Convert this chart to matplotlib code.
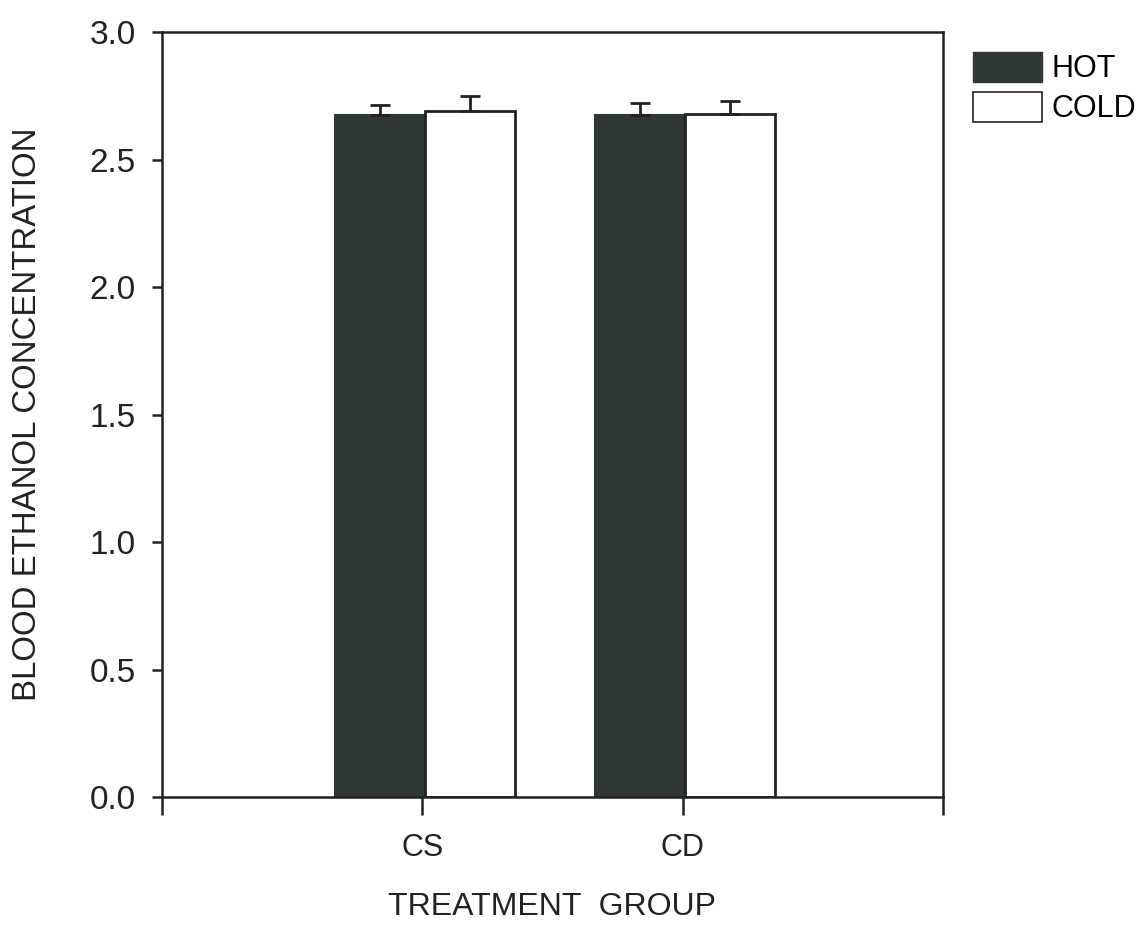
import matplotlib
matplotlib.use("Agg")
import matplotlib.pyplot as plt
import numpy as np
from matplotlib.patches import Patch

categories = ["CS", "CD"]
hot_values = [2.675, 2.675]
cold_values = [2.69, 2.68]
hot_err = [0.04, 0.045]
cold_err = [0.06, 0.05]
series_labels = ["HOT", "COLD"]
yticks = [0.0, 0.5, 1.0, 1.5, 2.0, 2.5, 3.0]

plt.rcParams['font.family'] = ['Liberation Sans', 'DejaVu Sans']

fig = plt.figure(figsize=(11.39, 9.26), dpi=100)
ax = fig.add_axes([0.1422, 0.1393, 0.6857, 0.8261])

x = np.arange(1, len(categories) + 1)
w = 0.346
off = 0.01
hot_color = '#2f3835'
ek = dict(ecolor='#222222', elinewidth=2, capsize=7, capthick=2)
ax.bar(x + off - w/2, hot_values, w, color=hot_color, edgecolor=hot_color, linewidth=1.5,
       yerr=[np.zeros(len(hot_err)), hot_err], error_kw=ek)
ax.bar(x + off + w/2, cold_values, w, color='white', edgecolor='#222222', linewidth=2,
       yerr=[np.zeros(len(cold_err)), cold_err], error_kw=ek)

ax.set_xlim(0, 3)
ax.set_ylim(0, 3)
ax.set_xticks([0, 1, 2, 3])
ax.set_xticklabels([''] + categories + [''])
ax.set_yticks(yticks)
ax.set_yticklabels([f"{v:.1f}" for v in yticks])
for s in ax.spines.values():
    s.set_linewidth(1.8)
    s.set_color('#222222')
ax.tick_params(axis='x', direction='out', length=13, width=1.8, pad=13, labelsize=22, colors='#222222')
ax.tick_params(axis='y', direction='out', length=7, width=1.8, pad=12, labelsize=24, colors='#222222')

ax.set_xlabel("TREATMENT  GROUP", fontsize=23, labelpad=21, color='#222222')
ax.set_ylabel("BLOOD ETHANOL CONCENTRATION", fontsize=23.8, labelpad=33, color='#222222')

handles = [Patch(facecolor=hot_color, edgecolor=hot_color), Patch(facecolor='white', edgecolor='#222222', linewidth=1.2)]
ax.legend(handles, series_labels, loc='upper left', bbox_to_anchor=(1.0384, 0.974), frameon=False,
          fontsize=22, handlelength=2.26, handleheight=1.12, handletextpad=0.3, borderpad=0, borderaxespad=0,
          labelspacing=0.25)

fig.savefig("out.png", dpi=100)
